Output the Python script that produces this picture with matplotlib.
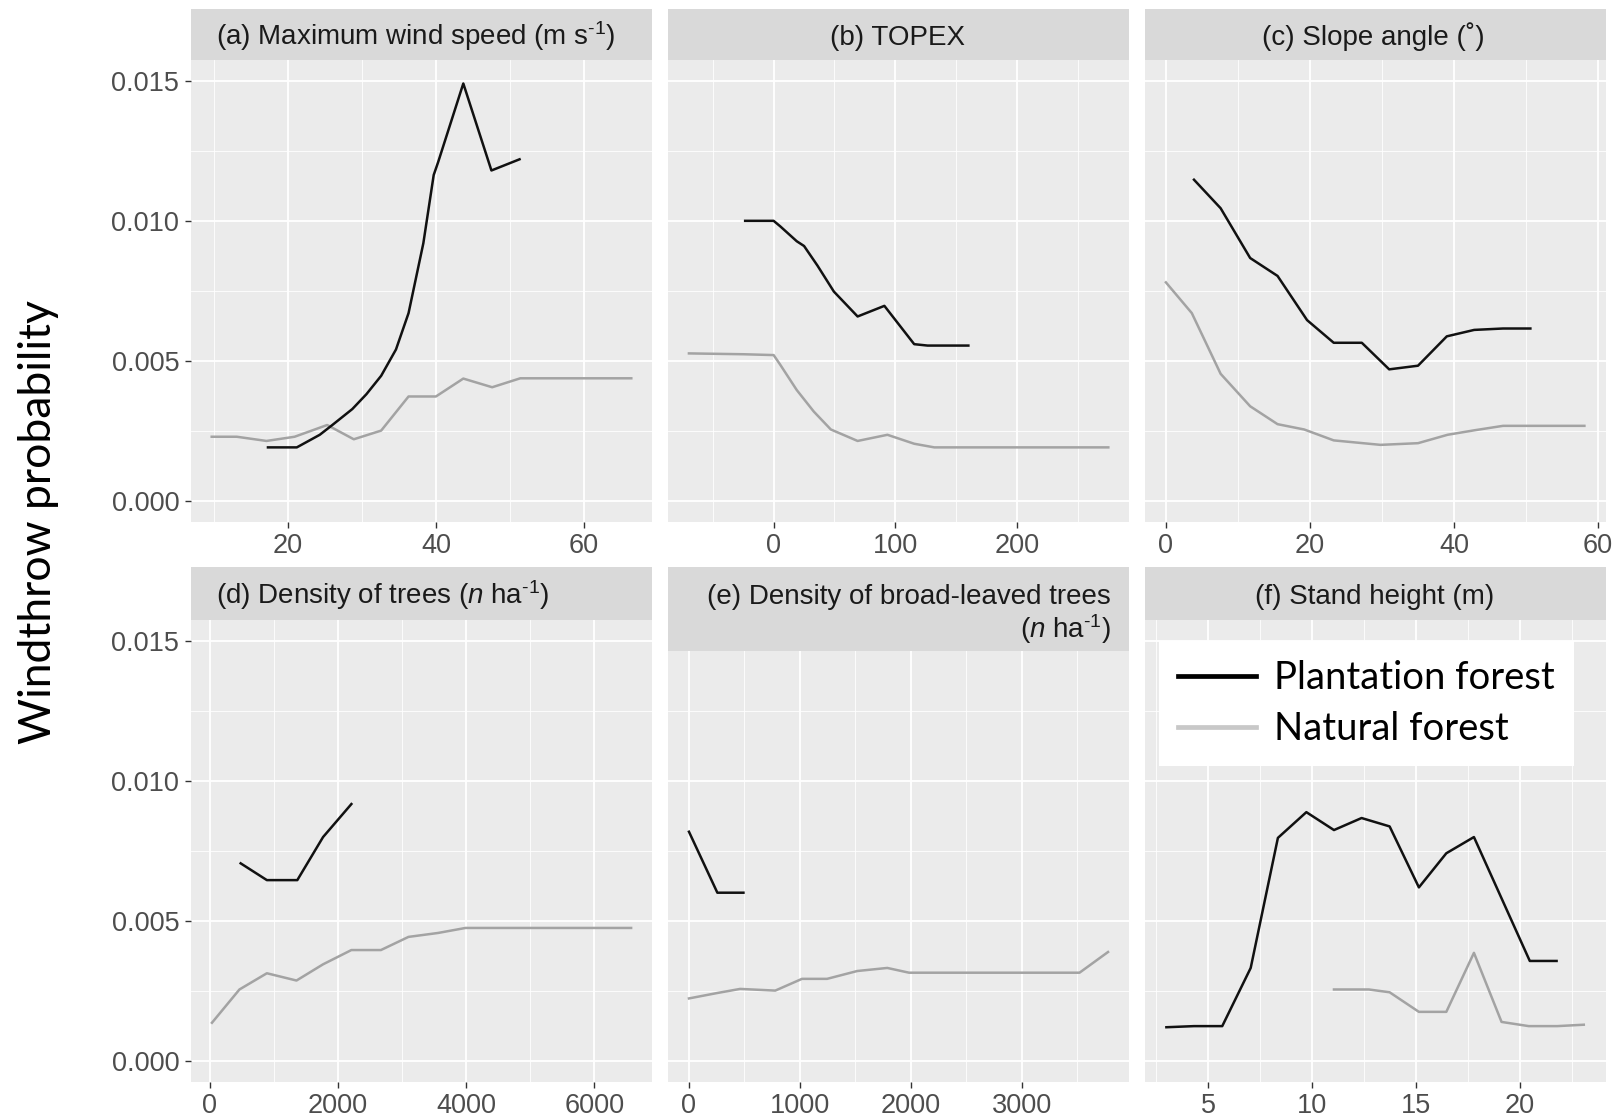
import matplotlib.pyplot as plt
from matplotlib.lines import Line2D
from matplotlib.ticker import FormatStrFormatter

plt.rcParams['font.family'] = ['Liberation Sans', 'DejaVu Sans']
plt.rcParams['mathtext.fontset'] = 'custom'
plt.rcParams['mathtext.rm'] = 'Liberation Sans'
plt.rcParams['mathtext.it'] = 'Liberation Sans:italic'

# ---- data ----
# (a) maximum wind speed
wind_pl_x = [17.3, 21.2, 24.3, 26.0, 28.7, 30.6, 32.6, 34.6, 36.3, 37.1, 38.3, 39.7, 40.3, 43.7, 47.5, 51.3]
wind_pl_y = [0.0019, 0.0019, 0.00235, 0.0027, 0.00327, 0.0038, 0.00446, 0.0054, 0.0067, 0.0077,
             0.0092, 0.01164, 0.0121, 0.01491, 0.0118, 0.0122]
wind_nat_x = [9.7, 13.1, 17.1, 20.9, 22.9, 25.3, 28.9, 32.6, 36.3, 40.0, 43.7, 47.6, 51.4, 66.4]
wind_nat_y = [0.00228, 0.00228, 0.00213, 0.00228, 0.00247, 0.0027, 0.00219, 0.0025, 0.00372,
              0.00372, 0.00436, 0.00405, 0.00437, 0.00437]

# (b) TOPEX
topex_pl_x = [-23.4, 0, 5.5, 19, 25, 36, 49.5, 69, 91, 115.5, 126.5, 160]
topex_pl_y = [0.0100, 0.0100, 0.0098, 0.00927, 0.0091, 0.0084, 0.00747, 0.00658, 0.00696,
              0.00559, 0.00554, 0.00554]
topex_nat_x = [-69.6, -24.8, 0, 5.5, 19, 33, 47, 69, 93.5, 115.5, 132, 275]
topex_nat_y = [0.00526, 0.00523, 0.0052, 0.00485, 0.00395, 0.00318, 0.00254, 0.00213, 0.00235,
               0.00203, 0.0019, 0.0019]

# (c) slope angle
slope_pl_x = [3.9, 7.6, 11.7, 15.5, 19.6, 23.3, 27.2, 31.0, 35.0, 39.0, 42.8, 46.8, 50.6]
slope_pl_y = [0.01147, 0.01045, 0.00867, 0.00803, 0.00645, 0.00564, 0.00564, 0.00469, 0.00482,
              0.00587, 0.0061, 0.00615, 0.00615]
slope_nat_x = [0, 3.6, 7.6, 11.7, 15.5, 19.2, 23.3, 29.8, 35.0, 39.1, 42.8, 46.8, 58.1]
slope_nat_y = [0.0078, 0.0067, 0.00453, 0.00337, 0.00273, 0.00254, 0.00215, 0.00199, 0.00205,
               0.00235, 0.00251, 0.00267, 0.00267]

# (d) density of trees
dens_pl_x = [481, 890, 1365, 1767, 2209]
dens_pl_y = [0.00705, 0.00645, 0.00645, 0.00799, 0.00917]
dens_nat_x = [33, 462, 890, 1352, 1767, 2209, 2670, 3100, 3560, 3990, 6574]
dens_nat_y = [0.00135, 0.00254, 0.00312, 0.00286, 0.00344, 0.00395, 0.00395, 0.00442, 0.00456,
              0.00474, 0.00474]

# (e) density of broad-leaved trees
broad_pl_x = [0, 256, 491]
broad_pl_y = [0.00818, 0.006, 0.006]
broad_nat_x = [0, 250, 461, 778, 1019, 1245, 1517, 1788, 1984, 3521, 3778]
broad_nat_y = [0.00222, 0.00241, 0.00256, 0.0025, 0.00292, 0.00292, 0.0032, 0.00331, 0.00314,
               0.00314, 0.00388]

# (f) stand height
height_pl_x = [2.98, 4.31, 5.67, 7.04, 8.35, 9.72, 11.05, 12.38, 13.73, 15.14, 16.46, 17.79, 20.48, 21.77]
height_pl_y = [0.00119, 0.00123, 0.00123, 0.00331, 0.00796, 0.00888, 0.00824, 0.00867, 0.00837,
               0.00619, 0.00741, 0.00799, 0.00356, 0.00356]
height_nat_x = [11.05, 12.73, 13.73, 15.14, 16.46, 17.79, 19.12, 20.43, 21.8, 23.08]
height_nat_y = [0.00254, 0.00254, 0.00244, 0.00174, 0.00174, 0.00385, 0.00138, 0.00123, 0.00123, 0.00128]

series = [
    (wind_pl_x, wind_pl_y, wind_nat_x, wind_nat_y),
    (topex_pl_x, topex_pl_y, topex_nat_x, topex_nat_y),
    (slope_pl_x, slope_pl_y, slope_nat_x, slope_nat_y),
    (dens_pl_x, dens_pl_y, dens_nat_x, dens_nat_y),
    (broad_pl_x, broad_pl_y, broad_nat_x, broad_nat_y),
    (height_pl_x, height_pl_y, height_nat_x, height_nat_y),
]

x_major = [[20, 40, 60], [0, 100, 200], [0, 20, 40, 60],
           [0, 2000, 4000, 6000], [0, 1000, 2000, 3000], [5, 10, 15, 20]]
x_minor = [[10, 30, 50], [-50, 50, 150, 250], [10, 30, 50],
           [1000, 3000, 5000], [500, 1500, 2500, 3500], [2.5, 7.5, 12.5, 17.5, 22.5]]
x_limits = [(6.9, 69.2), (-86.8, 292), (-2.9, 61.1), (-294, 6900), (-189, 3967), (1.95, 24.15)]
y_major = [0, 0.005, 0.010, 0.015]
y_minor = [0.0025, 0.0075, 0.0125]

strip_titles = ['(a) Maximum wind speed (m s$^{\\text{-1}}$)', '(b) TOPEX', '(c) Slope angle (\u02da)',
                '(d) Density of trees ($\\mathit{n}$ ha$^{\\text{-1}}$)',
                '(e) Density of broad-leaved trees', '(f) Stand height (m)']
legend_labels = ['Plantation forest', 'Natural forest']

# ---- layout (pixels of the 1613x1118 image) ----
W, H = 1613, 1118
fig = plt.figure(figsize=(W / 100, H / 100), dpi=100)
fig.patch.set_facecolor('white')

col_left = [191, 668, 1145]
pw = 461
row_top = [60, 620]
row_bot = [521.5, 1081.5]
strip_top = [9, 567]
base_y = [45, 604]

PL_COLOR = '#111111'
NAT_COLOR = '#a3a3a3'

axes = []
for i in range(6):
    r, c = divmod(i, 3)
    left = col_left[c]
    ax = fig.add_axes([left / W, 1 - row_bot[r] / H, pw / W, (row_bot[r] - row_top[r]) / H])
    ax.set_facecolor('#EBEBEB')
    for s in ax.spines.values():
        s.set_visible(False)
    pl_x, pl_y, nat_x, nat_y = series[i]
    ax.plot(nat_x, nat_y, color=NAT_COLOR, lw=1.8, solid_joinstyle='round')
    ax.plot(pl_x, pl_y, color=PL_COLOR, lw=1.8, solid_joinstyle='round')
    ax.set_xlim(*x_limits[i])
    ax.set_ylim(-0.00075, 0.01575)
    ax.set_xticks(x_major[i])
    ax.set_xticks(x_minor[i], minor=True)
    ax.set_yticks(y_major)
    ax.set_yticks(y_minor, minor=True)
    ax.yaxis.set_major_formatter(FormatStrFormatter('%.3f'))
    ax.set_axisbelow(True)
    ax.grid(which='major', color='white', lw=1.3)
    ax.grid(which='minor', color='white', lw=0.6)
    ax.tick_params(which='major', length=4.5, width=1, color='#333333',
                   labelcolor='#4D4D4D', labelsize=19.5, pad=4)
    ax.tick_params(which='minor', length=0)
    if c != 0:
        ax.tick_params(axis='y', left=False, labelleft=False)
    axes.append(ax)

    # strip
    sbot = 651 if i == 4 else row_top[r]
    sax = fig.add_axes([left / W, 1 - sbot / H, pw / W, (sbot - strip_top[r]) / H])
    sax.set_facecolor('#D9D9D9')
    sax.set_xticks([])
    sax.set_yticks([])
    for s in sax.spines.values():
        s.set_visible(False)
    sax.set_zorder(ax.get_zorder() + 1)

# strip texts
def ftext(x, y, s, **kw):
    fig.text(x / W, 1 - y / H, s, color='#1A1A1A', fontsize=20, va='baseline', **kw)

ftext(216, base_y[0], strip_titles[0], ha='left')
ftext(898, base_y[0], strip_titles[1], ha='center')
ftext(1373, base_y[0], strip_titles[2], ha='center')
ftext(216, base_y[1], strip_titles[3], ha='left')
ftext(1111, base_y[1], strip_titles[4], ha='right')
ftext(1111, 638, '($\\mathit{n}$ ha$^{\\text{-1}}$)', ha='right')
ftext(1375, base_y[1], strip_titles[5], ha='center')

fig.text(39 / W, 1 - 522 / H, 'Windthrow probability', rotation=90, ha='center', va='center',
         fontsize=32, family='Lato', color='black')

handles = [Line2D([], [], color='black', lw=3.4), Line2D([], [], color='#c8c8c8', lw=3.4)]
leg = axes[5].legend(handles, legend_labels, loc='upper left',
                     bbox_to_anchor=(1159 / W, 1 - 641 / H), bbox_transform=fig.transFigure,
                     frameon=True, fancybox=False, framealpha=1, facecolor='white',
                     edgecolor='none', prop={'family': 'Lato', 'size': 27.5},
                     handlelength=2.05, handletextpad=0.46, borderpad=0.5,
                     labelspacing=0.4, borderaxespad=0)

fig.savefig('out.png', dpi=100, facecolor='white')
